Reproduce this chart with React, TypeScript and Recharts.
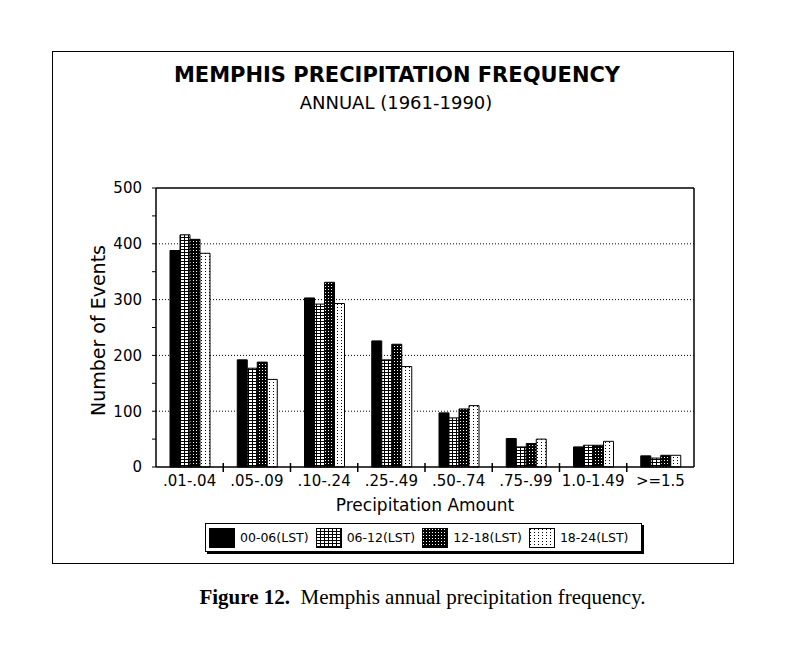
import React from 'react';
import { BarChart, Bar, XAxis, YAxis, CartesianGrid, Legend, ReferenceLine } from 'recharts';

// categories (precipitation amount, inches)
const amounts = ['.01-.04', '.05-.09', '.10-.24', '.25-.49', '.50-.74', '.75-.99', '1.0-1.49', '>=1.5'];

// number of events per 6-hour period
const p00_06 = [388, 192, 303, 226, 97, 51, 36, 20];
const p06_12 = [416, 177, 292, 192, 88, 36, 39, 16];
const p12_18 = [408, 188, 331, 220, 104, 42, 39, 21];
const p18_24 = [383, 157, 293, 180, 110, 50, 46, 21];

const seriesNames = ['00-06(LST)', '06-12(LST)', '12-18(LST)', '18-24(LST)'];
const seriesFills = ['#000', 'url(#hatch)', 'url(#darkdots)', 'url(#lightdots)'];

const yTicks = [0, 50, 100, 150, 200, 250, 300, 350, 400, 450, 500];
const gridValues = [100, 200, 300, 400];

const data = amounts.map((a, i) => ({
  amount: a,
  s0: p00_06[i],
  s1: p06_12[i],
  s2: p12_18[i],
  s3: p18_24[i],
}));

const FONT = '"DejaVu Sans", Arial, sans-serif';

// x tick: label plus a small mark on the left boundary of each category
const AmountTick = (props: any) => {
  const { x, y, payload, index } = props;
  const half = props.width / amounts.length / 2;
  const axisY = y - 8;
  return (
    <g>
      {index > 0 && <line x1={x - half} x2={x - half} y1={axisY - 4} y2={axisY + 5} stroke="#000" strokeWidth={1.5} />}
      <text x={x} y={y} dy="0.71em" textAnchor="middle" fontFamily={FONT} fontSize={15} fill="#000">{payload.value}</text>
    </g>
  );
};

const LegendBox = () => (
  <div style={{
    border: '1px solid #000', boxShadow: '2px 2px 0 #000', background: '#fff',
    display: 'flex', alignItems: 'center', height: 29, padding: '0 3px',
    fontFamily: FONT, fontSize: 12.5, color: '#000', boxSizing: 'border-box', whiteSpace: 'nowrap',
    width: 437,
  }}>
    {seriesNames.map((n, i) => (
      <div key={n} style={{ display: 'flex', alignItems: 'center', marginRight: i < 3 ? 7 : 0 }}>
        <svg width={26} height={20} style={{ marginRight: 5 }}>
          <rect x={0.5} y={0.5} width={25} height={19} fill={seriesFills[i]} stroke="#000" />
        </svg>
        <span>{n}</span>
      </div>
    ))}
  </div>
);

const App = () => {
  return (
    <div style={{ position: 'absolute', left: 0, top: 0, width: 801, height: 667, background: '#fff' }}>
      <div style={{ position: 'absolute', left: 52, top: 51, width: 682, height: 513, border: '1.5px solid #000', boxSizing: 'border-box' }} />
      <div style={{ position: 'absolute', left: 0, width: 794, top: 63, textAlign: 'center', fontFamily: FONT, fontWeight: 'bold', fontSize: 21 }}>
        MEMPHIS PRECIPITATION FREQUENCY
      </div>
      <div style={{ position: 'absolute', left: 0, width: 792, top: 92, textAlign: 'center', fontFamily: FONT, fontSize: 18 }}>
        ANNUAL (1961-1990)
      </div>
      <div style={{ position: 'absolute', left: 0, top: 0 }}>
        <BarChart
          width={801}
          height={667}
          data={data}
          margin={{ top: 188, right: 107, bottom: 140, left: 96 }}
          barSize={10}
          barGap={0}
        >
          <defs>
            <pattern id="hatch" width={4} height={3} patternUnits="userSpaceOnUse">
              <rect width={4} height={3} fill="#fff" />
              <rect width={4} height={1} fill="#000" />
              <rect width={1} height={3} fill="#000" />
            </pattern>
            <pattern id="darkdots" width={3} height={3} patternUnits="userSpaceOnUse">
              <rect width={3} height={3} fill="#000" />
              <rect x={1} y={1} width={1} height={1} fill="#fff" />
            </pattern>
            <pattern id="lightdots" width={4} height={3} patternUnits="userSpaceOnUse">
              <rect width={4} height={3} fill="#fff" />
              <rect x={1} y={1} width={1} height={1} fill="#000" />
            </pattern>
          </defs>
          <CartesianGrid vertical={false} stroke="#000" strokeDasharray="1 2" horizontalValues={gridValues} />
          <XAxis
            dataKey="amount"
            tickLine={false}
            tickSize={0}
            tickMargin={8}
            axisLine={{ stroke: '#000', strokeWidth: 1.5 }}
            tick={<AmountTick />}
            interval={0}
            height={60}
            label={{
              content: ({ viewBox }: any) => (
                <text x={viewBox.x + viewBox.width / 2} y={viewBox.y + 38} textAnchor="middle" dominantBaseline="central"
                  fontFamily={FONT} fontSize={17} fill="#000">Precipitation Amount</text>
              ),
            }}
          />
          <YAxis
            domain={[0, 500]}
            ticks={yTicks}
            tickFormatter={(v: number) => (v % 100 === 0 ? String(v) : '')}
            width={60}
            tickSize={4}
            tickMargin={10}
            axisLine={{ stroke: '#000', strokeWidth: 1.5 }}
            tickLine={{ stroke: '#000' }}
            tick={{ fill: '#000', fontSize: 15, fontFamily: FONT }}
            label={{
              content: ({ viewBox }: any) => {
                const cx = viewBox.x + 2;
                const cy = viewBox.y + viewBox.height / 2 + 3;
                return (
                  <text x={cx} y={cy} transform={`rotate(-90 ${cx} ${cy})`} textAnchor="middle" dominantBaseline="central"
                    fontFamily={FONT} fontSize={19} fill="#000">Number of Events</text>
                );
              },
            }}
          />
          <ReferenceLine y={500} stroke="#000" strokeWidth={1.5} />
          <ReferenceLine x={amounts[amounts.length - 1]} stroke="#000" strokeWidth={1.5} position="end" />
          {seriesNames.map((n, i) => (
            <Bar key={n} dataKey={`s${i}`} name={n} fill={seriesFills[i]} stroke="#000" strokeWidth={1} isAnimationActive={false} />
          ))}
          <Legend
            verticalAlign="middle"
            layout="horizontal"
            content={() => <LegendBox />}
            wrapperStyle={{ position: 'absolute', left: 205, top: 523, width: 440 }}
          />
        </BarChart>
      </div>
      <div style={{ position: 'absolute', left: 0, width: 845, top: 585, textAlign: 'center', fontFamily: '"Liberation Serif", "Times New Roman", serif', fontSize: 21 }}>
        <b>Figure 12.</b>&nbsp; Memphis annual precipitation frequency.
      </div>
    </div>
  );
};

export default App;
